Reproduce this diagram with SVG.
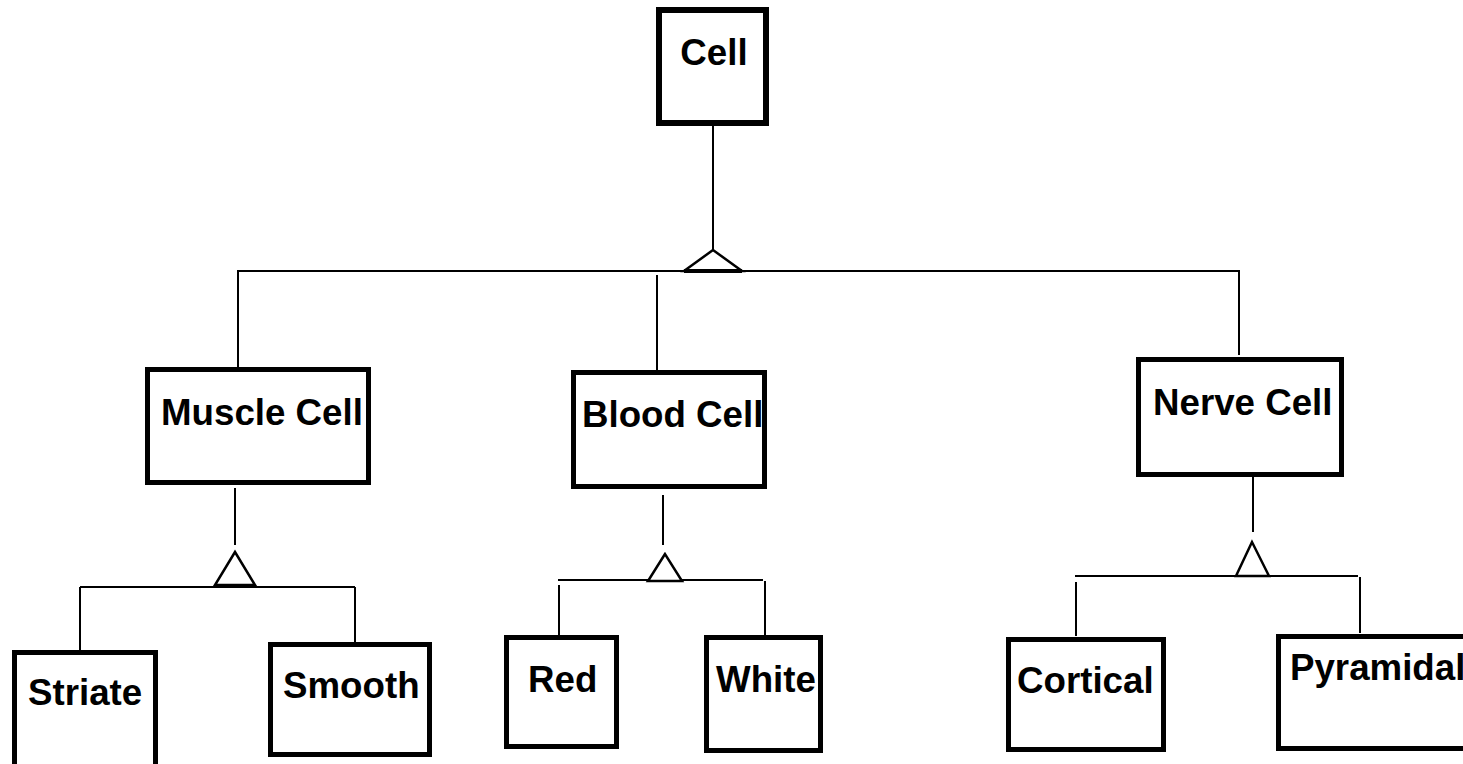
<svg xmlns="http://www.w3.org/2000/svg" width="1463" height="764" viewBox="0 0 1463 764">
<style>
.box{fill:#fff;stroke:#000;stroke-width:5}
.lbl{font-family:"Liberation Sans",Arial,sans-serif;font-weight:bold;font-size:36.7px;fill:#000}
.ln{stroke:#000;stroke-width:2;fill:none}
.tri{stroke:#000;stroke-width:2.5;fill:#fff;stroke-linejoin:miter}
</style>
<rect width="1463" height="764" fill="#fff"/>
<g id="connectors">
<line class="ln" x1="713" y1="126" x2="713" y2="250"/>
<line class="ln" x1="237" y1="271" x2="1240" y2="271"/>
<line class="ln" x1="238" y1="271" x2="238" y2="368"/>
<line class="ln" x1="657" y1="275" x2="657" y2="371"/>
<line class="ln" x1="1239" y1="271" x2="1239" y2="355"/>
<polygon class="tri" points="713,250 684,271 742,271"/>
<line x1="684" y1="271" x2="742" y2="271" stroke="#000" stroke-width="4"/>

<line class="ln" x1="235" y1="488" x2="235" y2="545"/>
<line class="ln" x1="80" y1="587" x2="355" y2="587"/>
<line class="ln" x1="80" y1="587" x2="80" y2="650"/>
<line class="ln" x1="355" y1="587" x2="355" y2="643"/>
<polygon class="tri" points="235,552 215,585 255,585"/>

<line class="ln" x1="663" y1="495" x2="663" y2="545"/>
<line class="ln" x1="558" y1="580" x2="763" y2="580"/>
<line class="ln" x1="559" y1="585" x2="559" y2="636"/>
<line class="ln" x1="765" y1="581" x2="765" y2="636"/>
<polygon class="tri" points="665,554 648,581 682,581"/>

<line class="ln" x1="1253" y1="477" x2="1253" y2="532"/>
<line class="ln" x1="1075" y1="576" x2="1358" y2="576"/>
<line class="ln" x1="1076" y1="582" x2="1076" y2="636"/>
<line class="ln" x1="1360" y1="577" x2="1360" y2="633"/>
<polygon class="tri" points="1252,542 1236,576 1269,576"/>
</g>
<g id="cell"><rect class="box" x="659" y="10" width="107" height="113" style="stroke-width:6"/><text class="lbl" x="714" y="65" text-anchor="middle">Cell</text></g>
<g id="muscle"><rect class="box" x="147.5" y="369.5" width="221" height="113"/><text class="lbl" x="161" y="425">Muscle Cell</text></g>
<g id="blood"><rect class="box" x="573.5" y="372.5" width="191" height="114"/><text class="lbl" x="582" y="427">Blood Cell</text></g>
<g id="nerve"><rect class="box" x="1138.5" y="359.5" width="203" height="115"/><text class="lbl" x="1153" y="415">Nerve Cell</text></g>
<g id="striate"><rect class="box" x="14.5" y="652.5" width="141" height="130"/><text class="lbl" x="28" y="705">Striate</text></g>
<g id="smooth"><rect class="box" x="270.5" y="644.5" width="159" height="110"/><text class="lbl" x="283" y="698">Smooth</text></g>
<g id="red"><rect class="box" x="506.5" y="637.5" width="110" height="109"/><text class="lbl" x="528" y="692">Red</text></g>
<g id="white"><rect class="box" x="706.5" y="637.5" width="114" height="113"/><text class="lbl" x="716" y="692">White</text></g>
<g id="cortical"><rect class="box" x="1008.5" y="639.5" width="155" height="110"/><text class="lbl" x="1017" y="693">Cortical</text></g>
<g id="pyramidal"><rect class="box" x="1278.5" y="636.5" width="200" height="112"/><text class="lbl" x="1290" y="680">Pyramidal</text></g>
</svg>
